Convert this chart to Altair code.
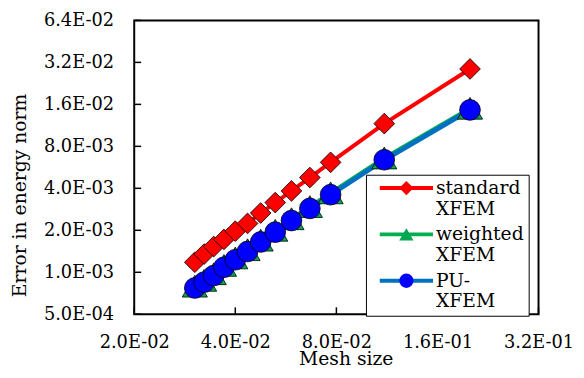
import json
import altair as alt
import pandas as pd

# ---- data ----
series_names = ["standard XFEM", "weighted XFEM", "PU-XFEM"]
line_colors = ["#FF0000", "#00B050", "#0070C0"]
line_widths = [4, 4, 5]
marker_fills = ["#FF0000", "#00A651", "#0000FF"]
marker_shapes = ["diamond", "triangle-up", "circle"]
marker_sizes = [441, 650, 441]

mesh_size = [0.0303, 0.0323, 0.0345, 0.0370, 0.0400, 0.0435, 0.0476,
             0.0526, 0.0588, 0.0667, 0.0769, 0.1111, 0.2000]
err_standard = [1.18e-3, 1.35e-3, 1.53e-3, 1.72e-3, 1.97e-3, 2.24e-3, 2.66e-3,
                3.16e-3, 3.83e-3, 4.78e-3, 6.14e-3, 1.164e-2, 2.87e-2]
err_weighted = [7.95e-4, 8.75e-4, 9.76e-4, 1.12e-3, 1.267e-3, 1.452e-3, 1.70e-3,
                2.00e-3, 2.42e-3, 2.96e-3, 3.71e-3, 6.60e-3, 1.50e-2]
err_pu = [7.72e-4, 8.50e-4, 9.48e-4, 1.087e-3, 1.23e-3, 1.41e-3, 1.65e-3,
          1.94e-3, 2.35e-3, 2.87e-3, 3.60e-3, 6.41e-3, 1.46e-2]

x_ticks = [0.02, 0.04, 0.08, 0.16, 0.32]
x_tick_labels = ["2.0E-02", "4.0E-02", "8.0E-02", "1.6E-01", "3.2E-01"]
y_ticks = [0.0005, 0.001, 0.002, 0.004, 0.008, 0.016, 0.032, 0.064]
y_tick_labels = ["5.0E-04", "1.0E-03", "2.0E-03", "4.0E-03", "8.0E-03",
                 "1.6E-02", "3.2E-02", "6.4E-02"]

rows = []
for k, (name, errs) in enumerate(zip(series_names, [err_standard, err_weighted, err_pu])):
    for m, e in zip(mesh_size, errs):
        rows.append({"mesh": m, "err": e, "series": name, "k": k})
df = pd.DataFrame(rows)

W, H = 410, 298
FONT = "DejaVu Serif"
FS_TICK = 18
FS_TITLE = 19
FS_LEG = 19

xs = alt.Scale(type="log", base=2, domain=[x_ticks[0], x_ticks[-1]], nice=False)
ys = alt.Scale(type="log", base=2, domain=[y_ticks[0], y_ticks[-1]], nice=False)

x_label_expr = f"{json.dumps(x_tick_labels)}[round(log(datum.value/{x_ticks[0]})/LN2)]"
y_label_expr = f"{json.dumps(y_tick_labels)}[round(log(datum.value/{y_ticks[0]})/LN2)]"

common_axis = dict(grid=False, domain=False, ticks=False, tickSize=0, labelOverlap=False,
                   labelFont=FONT, labelFontSize=FS_TICK, labelColor="black",
                   titleFont=FONT, titleFontSize=FS_TITLE, titleFontWeight="normal",
                   titleColor="black")

x_axis = alt.Axis(values=x_ticks, labelExpr=x_label_expr, title="Mesh size",
                  labelPadding=20, labelFlush=False, titleX=214.5, titleY=51,
                  titleBaseline="alphabetic", **common_axis)
y_axis = alt.Axis(values=y_ticks, labelExpr=y_label_expr, title="Error in energy norm",
                  labelPadding=21, titleX=-110, titleY=177,
                  titleBaseline="alphabetic", **common_axis)

pu_name = series_names[2]
line_label_expr = (f"datum.label == '{pu_name}' ? ['PU-', 'XFEM'] : split(datum.label, ' ')")

legend_common = dict(orient="none", legendX=235, legendY=156.5, title=None, padding=4,
                     rowPadding=6, symbolOffset=27.5, labelOffset=20.5, labelFont=FONT,
                     labelFontSize=FS_LEG, labelLimit=300, symbolOpacity=1)

line_legend = alt.Legend(symbolType="M-3.6,0L3.6,0", symbolSize=225, symbolStrokeWidth=4,
                         labelExpr=line_label_expr, labelColor="black",
                         fillColor="white", strokeColor="black",
                         **legend_common)

marker_legend = alt.Legend(symbolSize=210, symbolStrokeColor="black", symbolStrokeWidth=0.8,
                           labelExpr="[' ', ' ']", labelOpacity=0,
                           **legend_common)

# inward tick marks
x_tick_marks = alt.Chart(pd.DataFrame({"xt": x_ticks})).mark_rule(
    color="black", strokeWidth=1.5).encode(
    x=alt.X("xt:Q", scale=xs, axis=x_axis), y=alt.value(H), y2=alt.value(H - 7))
y_tick_marks = alt.Chart(pd.DataFrame({"yt": y_ticks})).mark_rule(
    color="black", strokeWidth=1.5).encode(
    y=alt.Y("yt:Q", scale=ys, axis=y_axis), x=alt.value(0), x2=alt.value(7))

line_layers = []
for i, name in enumerate(series_names):
    line_layers.append(
        alt.Chart(df).transform_filter(alt.datum.series == name)
        .mark_line(strokeWidth=line_widths[i], strokeJoin="round")
        .encode(
            x=alt.X("mesh:Q", scale=xs, axis=x_axis),
            y=alt.Y("err:Q", scale=ys, axis=y_axis),
            stroke=alt.Stroke("series:N",
                              scale=alt.Scale(domain=series_names, range=line_colors),
                              legend=line_legend),
        )
    )

point_layers = []
for i, name in enumerate(series_names):
    point_layers.append(
        alt.Chart(df).transform_filter(alt.datum.k == i)
        .mark_point(filled=True, size=marker_sizes[i], stroke="black",
                    strokeWidth=0.8, opacity=1)
        .encode(
            x=alt.X("mesh:Q", scale=xs, axis=x_axis),
            y=alt.Y("err:Q", scale=ys, axis=y_axis),
            fill=alt.Fill("k:N", scale=alt.Scale(domain=[0, 1, 2], range=marker_fills),
                          legend=marker_legend),
            shape=alt.Shape("k:N", scale=alt.Scale(domain=[0, 1, 2], range=marker_shapes),
                            legend=marker_legend),
        )
    )

chart = alt.layer(x_tick_marks, y_tick_marks, *line_layers, *point_layers).properties(
    width=W, height=H,
    autosize=alt.AutoSizeParams(type="none"),
    padding={"left": 128, "top": 10, "right": 38, "bottom": 58},
    background="white",
).configure_view(stroke="black", strokeWidth=2)

chart.save("out.html", embed_options={"renderer": "svg", "actions": False})
